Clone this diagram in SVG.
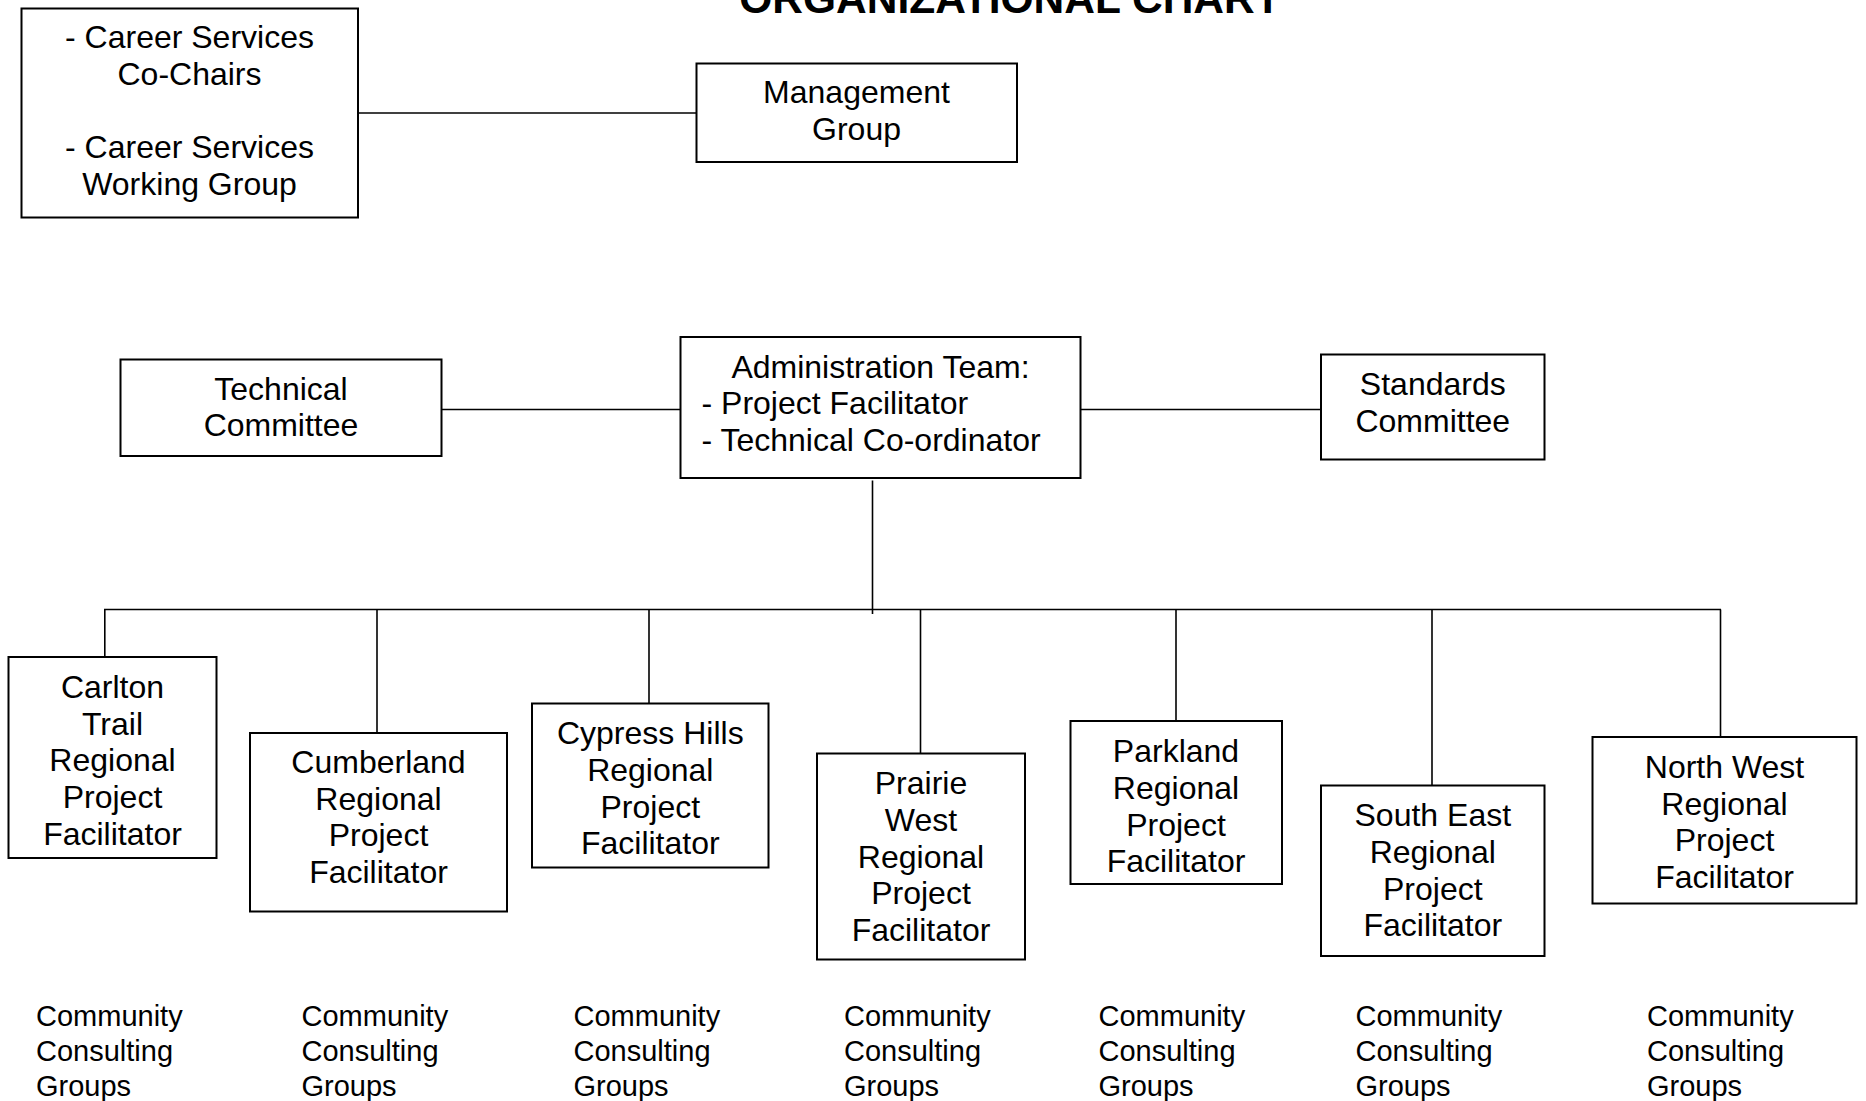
<svg xmlns="http://www.w3.org/2000/svg" width="1866" height="1101" viewBox="0 0 1866 1101">
  <style>
    .box { fill: #ffffff; stroke: #000000; stroke-width: 2; }
    .link { stroke: #000000; stroke-width: 1.6; fill: none; }
    text { font-family: "Liberation Sans", Arial, sans-serif; fill: #000000; }
    .lbl { font-size: 32px; text-anchor: middle; }
    .lbl-left { font-size: 32px; text-anchor: start; }
    .title { font-size: 42.5px; font-weight: bold; text-anchor: middle; }
    .note { font-size: 29px; }
  </style>
  <rect width="1866" height="1101" fill="#ffffff"/>

  <text class="title" x="1010" y="13">ORGANIZATIONAL CHART</text>

  <!-- connectors -->
  <g id="connectors">
    <line class="link" x1="358" y1="113" x2="696" y2="113"/>
    <line class="link" x1="441.5" y1="409.5" x2="686" y2="409.5"/>
    <line class="link" x1="1080.5" y1="409.5" x2="1321" y2="409.5"/>
    <line class="link" x1="872.5" y1="480.5" x2="872.5" y2="614"/>
    <line class="link" x1="104" y1="609.5" x2="1721" y2="609.5"/>
    <line class="link" x1="104.8" y1="609.5" x2="104.8" y2="657"/>
    <line class="link" x1="377" y1="609.5" x2="377" y2="737"/>
    <line class="link" x1="649" y1="609.5" x2="649" y2="706"/>
    <line class="link" x1="920.5" y1="609.5" x2="920.5" y2="753"/>
    <line class="link" x1="1176" y1="609.5" x2="1176" y2="721"/>
    <line class="link" x1="1432" y1="609.5" x2="1432" y2="785"/>
    <line class="link" x1="1720.5" y1="609.5" x2="1720.5" y2="737"/>
  </g>

  <g id="career-services">
    <rect class="box" x="21.5" y="8.5" width="336.5" height="209"/>
    <text class="lbl" x="189.5" y="48">- Career Services</text>
    <text class="lbl" x="189.5" y="85">Co-Chairs</text>
    <text class="lbl" x="189.5" y="158">- Career Services</text>
    <text class="lbl" x="189.5" y="195">Working Group</text>
  </g>

  <g id="management-group">
    <rect class="box" x="696.5" y="63.5" width="320.5" height="98.5"/>
    <text class="lbl" x="856.5" y="103">Management</text>
    <text class="lbl" x="856.5" y="140">Group</text>
  </g>

  <g id="technical-committee">
    <rect class="box" x="120.5" y="359.5" width="321" height="96.5"/>
    <text class="lbl" x="281" y="400">Technical</text>
    <text class="lbl" x="281" y="436">Committee</text>
  </g>

  <g id="administration-team">
    <rect class="box" x="680.5" y="337" width="400" height="141"/>
    <text class="lbl" x="880.5" y="377.5">Administration Team:</text>
    <text class="lbl-left" x="701.5" y="414">- Project Facilitator</text>
    <text class="lbl-left" x="701.5" y="451">- Technical Co-ordinator</text>
  </g>

  <g id="standards-committee">
    <rect class="box" x="1321" y="354.5" width="223.5" height="105"/>
    <text class="lbl" x="1432.8" y="395">Standards</text>
    <text class="lbl" x="1432.8" y="432">Committee</text>
  </g>

  <g id="carlton-trail">
    <rect class="box" x="8.5" y="657" width="208" height="201"/>
    <text class="lbl" x="112.5" y="698">Carlton</text>
    <text class="lbl" x="112.5" y="735">Trail</text>
    <text class="lbl" x="112.5" y="771">Regional</text>
    <text class="lbl" x="112.5" y="808">Project</text>
    <text class="lbl" x="112.5" y="845">Facilitator</text>
  </g>

  <g id="cumberland">
    <rect class="box" x="250" y="733" width="257" height="178.5"/>
    <text class="lbl" x="378.5" y="773">Cumberland</text>
    <text class="lbl" x="378.5" y="810">Regional</text>
    <text class="lbl" x="378.5" y="846">Project</text>
    <text class="lbl" x="378.5" y="883">Facilitator</text>
  </g>

  <g id="cypress-hills">
    <rect class="box" x="532" y="703.5" width="236.5" height="164"/>
    <text class="lbl" x="650.3" y="744">Cypress Hills</text>
    <text class="lbl" x="650.3" y="781">Regional</text>
    <text class="lbl" x="650.3" y="818">Project</text>
    <text class="lbl" x="650.3" y="854">Facilitator</text>
  </g>

  <g id="prairie-west">
    <rect class="box" x="817" y="753.5" width="208" height="206"/>
    <text class="lbl" x="921" y="794">Prairie</text>
    <text class="lbl" x="921" y="831">West</text>
    <text class="lbl" x="921" y="868">Regional</text>
    <text class="lbl" x="921" y="904">Project</text>
    <text class="lbl" x="921" y="941">Facilitator</text>
  </g>

  <g id="parkland">
    <rect class="box" x="1070.5" y="721" width="211.5" height="163"/>
    <text class="lbl" x="1176" y="762">Parkland</text>
    <text class="lbl" x="1176" y="799">Regional</text>
    <text class="lbl" x="1176" y="836">Project</text>
    <text class="lbl" x="1176" y="872">Facilitator</text>
  </g>

  <g id="south-east">
    <rect class="box" x="1321" y="785.5" width="223.5" height="170.5"/>
    <text class="lbl" x="1432.8" y="826">South East</text>
    <text class="lbl" x="1432.8" y="863">Regional</text>
    <text class="lbl" x="1432.8" y="900">Project</text>
    <text class="lbl" x="1432.8" y="936">Facilitator</text>
  </g>

  <g id="north-west">
    <rect class="box" x="1592.5" y="737" width="264" height="166.5"/>
    <text class="lbl" x="1724.5" y="778">North West</text>
    <text class="lbl" x="1724.5" y="815">Regional</text>
    <text class="lbl" x="1724.5" y="851">Project</text>
    <text class="lbl" x="1724.5" y="888">Facilitator</text>
  </g>

  <!-- community consulting groups under each region -->
  <g id="community-groups">
    <text class="note" x="36" y="1026">Community</text>
    <text class="note" x="36" y="1061">Consulting</text>
    <text class="note" x="36" y="1096">Groups</text>

    <text class="note" x="301.5" y="1026">Community</text>
    <text class="note" x="301.5" y="1061">Consulting</text>
    <text class="note" x="301.5" y="1096">Groups</text>

    <text class="note" x="573.5" y="1026">Community</text>
    <text class="note" x="573.5" y="1061">Consulting</text>
    <text class="note" x="573.5" y="1096">Groups</text>

    <text class="note" x="844" y="1026">Community</text>
    <text class="note" x="844" y="1061">Consulting</text>
    <text class="note" x="844" y="1096">Groups</text>

    <text class="note" x="1098.5" y="1026">Community</text>
    <text class="note" x="1098.5" y="1061">Consulting</text>
    <text class="note" x="1098.5" y="1096">Groups</text>

    <text class="note" x="1355.5" y="1026">Community</text>
    <text class="note" x="1355.5" y="1061">Consulting</text>
    <text class="note" x="1355.5" y="1096">Groups</text>

    <text class="note" x="1647" y="1026">Community</text>
    <text class="note" x="1647" y="1061">Consulting</text>
    <text class="note" x="1647" y="1096">Groups</text>
  </g>
</svg>
